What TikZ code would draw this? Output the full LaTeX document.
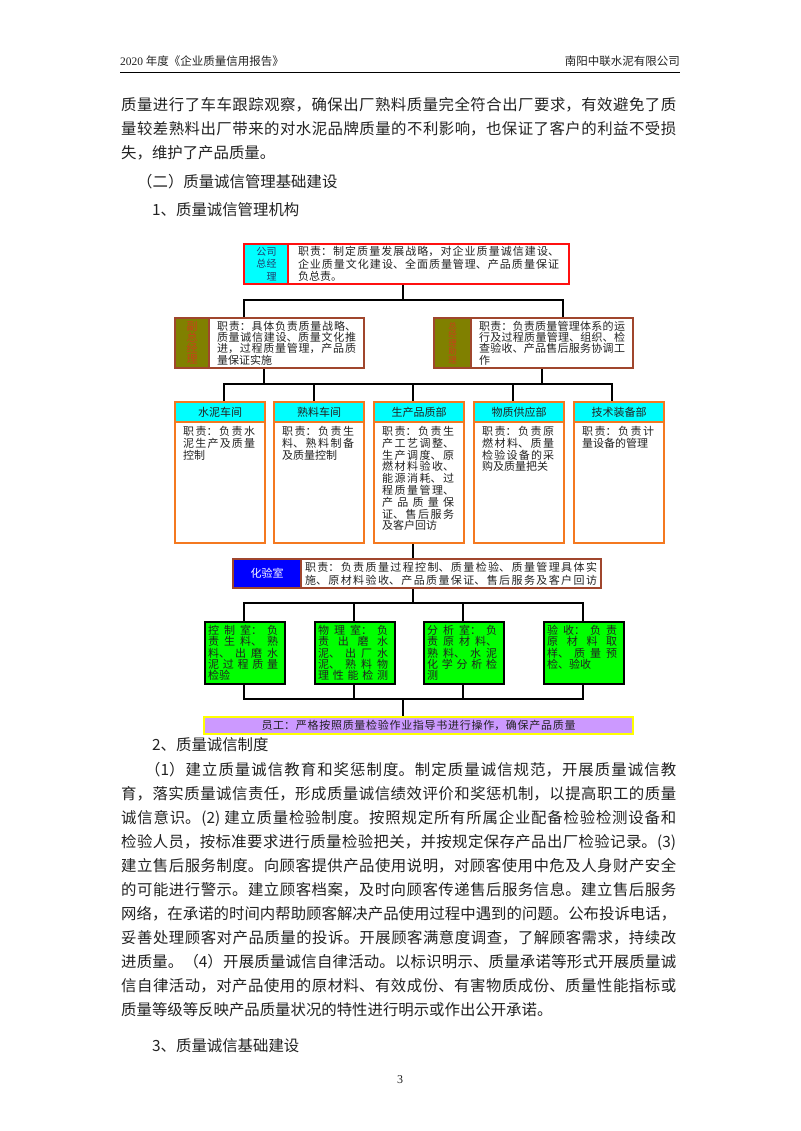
\documentclass[tikz,border=0pt]{standalone}
\usepackage{fontspec}
\setmainfont{Liberation Serif}
\newfontfamily\cjk{Noto Sans CJK SC}
\usetikzlibrary{positioning}
\XeTeXlinebreaklocale "zh"
\XeTeXlinebreakskip=0pt plus 3pt
\definecolor{gmcyan}{HTML}{00FFFF}
\definecolor{gmred}{HTML}{FF1010}
\definecolor{gmlbltext}{HTML}{1F3F6F}
\definecolor{vgolive}{HTML}{808000}
\definecolor{vgtext}{HTML}{C8401A}
\definecolor{vgedge}{HTML}{A0462D}
\definecolor{deptedge}{HTML}{F47920}
\definecolor{labblue}{HTML}{0000FF}
\definecolor{roomgreen}{HTML}{00FF00}
\definecolor{staffpurple}{HTML}{CC99FF}
\definecolor{staffedge}{HTML}{FFFF00}
\definecolor{ink}{HTML}{222222}
\newcommand{\bodyfont}{\cjk\fontsize{15.4}{24}\selectfont}
\newcommand{\headfont}{\cjk\fontsize{11.5}{14}\selectfont}
\newcommand{\chartfont}[1][11.8]{\cjk\fontsize{11}{#1}\selectfont}
\newcommand{\smalllbl}{\cjk\fontsize{8.5}{8.6}\selectfont}

\begin{document}
\begin{tikzpicture}[x=1pt, y=-1pt,
    every node/.style={text=ink, inner sep=0pt},
    para/.style={anchor=north west, font=\bodyfont, text width=555, align=justify},
    heading/.style={anchor=north west, font=\bodyfont},
    frame/.style={anchor=north west, draw, line width=2pt, align=justify},
    gmbox/.style={frame, draw=gmred},
    vgbox/.style={frame, draw=vgedge},
    deptbox/.style={frame, draw=deptedge, minimum width=90},
    roombox/.style={frame, draw=black, fill=roomgreen, minimum width=80, minimum height=62},
    duty/.style={anchor=north west, align=justify, font=\chartfont},
    spread/.style={execute at begin node={\parfillskip=0pt\relax}},
    tree/.style={draw=black, line width=1.8pt},
  ]
  \fill[white] (0,0) rectangle (800,1131);
  \useasboundingbox (0,0) rectangle (800,1131);

  % page head
  \node[anchor=base west, font=\headfont] (headl) at (120,66) {{\rmfamily 2020} 年度《企业质量信用报告》};
  \node[anchor=base east, font=\headfont] (headr) at (680,66) {南阳中联水泥有限公司};
  \draw[line width=1pt] (120,73) -- (680,73);

  % text above the chart
  \node[para] (p1) at (121,97) {质量进行了车车跟踪观察，确保出厂熟料质量完全符合出厂要求，有效避免了质\linebreak
    量较差熟料出厂带来的对水泥品牌质量的不利影响，也保证了客户的利益不受损\linebreak
    失，维护了产品质量。};
  \node[heading] (h2) at (137,174) {（二）质量诚信管理基础建设};
  \node[heading] (h21) at (152,202) {1、质量诚信管理机构};

  % general manager
  \node[gmbox, fill=gmcyan, minimum width=44, minimum height=40, text width=21, inner xsep=11.5,
        align=right, font={\cjk\fontsize{10}{12.5}\selectfont}, text=gmlbltext] (gmlbl) at (243,243) {公司\\总经\\理};
  \node[gmbox, fill=white, minimum width=281, minimum height=40, text width=261, inner xsep=10,
        font={\chartfont[12.5]}] (gmduty) at (287,243)
        {职责：制定质量发展战略，对企业质量诚信建设、\linebreak
         企业质量文化建设、全面质量管理、产品质量保证\linebreak
         负总责。};

  % deputy and assistant
  \node[vgbox, fill=vgolive, minimum width=34, minimum height=50, text width=12, align=center,
        font={\chartfont[11]}, text=vgtext] (vgmlbl) at (174,317) {副\\总\\经\\理};
  \node[vgbox, fill=white, minimum width=155, minimum height=50, text width=139, inner xsep=8,
        font={\chartfont[11.3]}] (vgmduty) at (208,317)
        {职责：具体负责质量战略、\linebreak
         质量诚信建设、质量文化推\linebreak
         进，过程质量管理，产品质\linebreak
         量保证实施};
  \node[vgbox, fill=vgolive, minimum width=37, minimum height=50, text width=10, align=center,
        font=\smalllbl, text=vgtext] (agmlbl) at (433,317) {总\\经\\理\\助\\理};
  \node[vgbox, fill=white, minimum width=162, minimum height=50, text width=146, inner xsep=8,
        font={\chartfont[11.3]}] (agmduty) at (470,317)
        {职责：负责质量管理体系的运\linebreak
         行及过程质量管理、组织、检\linebreak
         查验收、产品售后服务协调工\linebreak
         作};

  % departments
  \foreach \name/\x/\title in {cw/174/水泥车间, kl/273/熟料车间, pq/373/生产品质部, ms/473/物质供应部, te/573/技术装备部} {
    \node[deptbox, fill=gmcyan, minimum height=20, align=center, font=\chartfont] (\name-head) at (\x,401) {\title};
    \node[deptbox, fill=white, minimum height=121] (\name-body) at (\x,421) {};
  }
  \node[duty, text width=72, below right=5pt and 9pt of cw-body.north west] (cw-text)
        {职责：负责水\linebreak 泥生产及质量\linebreak 控制};
  \node[duty, text width=72, below right=5pt and 9pt of kl-body.north west] (kl-text)
        {职责：负责生\linebreak 料、熟料制备\linebreak 及质量控制};
  \node[duty, text width=72, below right=5pt and 9pt of pq-body.north west] (pq-text)
        {职责：负责生\linebreak 产工艺调整、\linebreak 生产调度、原\linebreak 燃材料验收、\linebreak
         能源消耗、过\linebreak 程质量管理、\linebreak 产品质量保\linebreak 证、售后服务\linebreak 及客户回访};
  \node[duty, text width=72, below right=5pt and 9pt of ms-body.north west] (ms-text)
        {职责：负责原\linebreak 燃材料、质量\linebreak 检验设备的采\linebreak 购及质量把关};
  \node[duty, text width=72, below right=5pt and 9pt of te-body.north west] (te-text)
        {职责：负责计\linebreak 量设备的管理};

  % laboratory
  \node[vgbox, fill=labblue, minimum width=68, minimum height=29, align=center, font=\chartfont,
        text=white] (lablbl) at (232,558) {化验室};
  \node[vgbox, fill=white, minimum width=300, minimum height=29, text width=292, inner xsep=4,
        font={\chartfont[12.7]}, spread] (labduty) at (300,558)
        {职责：负责质量过程控制、质量检验、质量管理具体实\linebreak
         施、原材料验收、产品质量保证、售后服务及客户回访};

  % rooms
  \node[roombox] (ctrl) at (204,621) {};
  \node[roombox] (phys) at (314,621) {};
  \node[roombox] (anal) at (423,621) {};
  \node[roombox] (recv) at (543,621) {};
  \node[duty, text width=70, font={\chartfont[11.3]}, below right=4pt and 4pt of ctrl.north west] (ctrl-text)
        {控制室：负\linebreak 责生料、熟\linebreak 料、出磨水\linebreak 泥过程质量\linebreak 检验};
  \node[duty, text width=70, font={\chartfont[11.3]}, spread, below right=4pt and 4pt of phys.north west] (phys-text)
        {物理室：负\linebreak 责出磨水\linebreak 泥、出厂水\linebreak 泥、熟料物\linebreak 理性能检测};
  \node[duty, text width=70, font={\chartfont[11.3]}, below right=4pt and 4pt of anal.north west] (anal-text)
        {分析室：负\linebreak 责原材料、\linebreak 熟料、水泥\linebreak 化学分析检\linebreak 测};
  \node[duty, text width=70, font={\chartfont[11.3]}, below right=4pt and 4pt of recv.north west] (recv-text)
        {验收：负责\linebreak 原材料取\linebreak 样、质量预\linebreak 检、验收};

  % staff
  \node[frame, draw=staffedge, fill=staffpurple, minimum width=429, minimum height=17, text width=314,
        inner xsep=57.5, font=\chartfont, spread] (staff) at (203,716)
        {员工：严格按照质量检验作业指导书进行操作，确保产品质量};

  % connectors
  \coordinate (gmj) at (403,300);
  \coordinate (gml) at (244,300);
  \coordinate (gmr) at (563,300);
  \draw[tree] (gmduty.south -| gmj) -- (gmj);
  \draw[tree] (vgmduty.north -| gml) -- (gml) -- (gmr) -- (agmduty.north -| gmr);

  \coordinate (vgj) at (264,384);
  \coordinate (agj) at (542,384);
  \draw[tree] (vgmduty.south -| vgj) -- (vgj);
  \draw[tree] (agmduty.south -| agj) -- (agj);
  \coordinate (db1) at (224,384);
  \coordinate (db2) at (314,384);
  \coordinate (db3) at (413,384);
  \coordinate (db4) at (513,384);
  \coordinate (db5) at (612,384);
  \draw[tree] (cw-head.north -| db1) -- (db1) -- (db5) -- (te-head.north -| db5);
  \foreach \c/\b in {db2/kl, db3/pq, db4/ms}
    \draw[tree] (\c) -- (\b-head.north -| \c);

  \coordinate (labx) at (413,550);
  \draw[tree] (pq-body.south -| labx) -- (labduty.north -| labx);

  \coordinate (rj) at (413,603);
  \coordinate (rb1) at (244,603);
  \coordinate (rb2) at (354,603);
  \coordinate (rb3) at (463,603);
  \coordinate (rb4) at (583,603);
  \draw[tree] (labduty.south -| rj) -- (rj);
  \draw[tree] (ctrl.north -| rb1) -- (rb1) -- (rb4) -- (recv.north -| rb4);
  \draw[tree] (rb2) -- (phys.north -| rb2);
  \draw[tree] (rb3) -- (anal.north -| rb3);

  \coordinate (sj) at (403,699);
  \coordinate (sb1) at (244,699);
  \coordinate (sb2) at (354,699);
  \coordinate (sb3) at (463,699);
  \coordinate (sb4) at (583,699);
  \draw[tree] (ctrl.south -| sb1) -- (sb1) -- (sb4) -- (recv.south -| sb4);
  \draw[tree] (phys.south -| sb2) -- (sb2);
  \draw[tree] (anal.south -| sb3) -- (sb3);
  \draw[tree] (sj) -- (staff.north -| sj);

  % text below the chart
  \node[heading] (h22) at (152,737) {2、质量诚信制度};
  \node[para] (p2) at (121,762) {\hspace*{24pt}（1）建立质量诚信教育和奖惩制度。制定质量诚信规范，开展质量诚信教\linebreak
    育，落实质量诚信责任，形成质量诚信绩效评价和奖惩机制，以提高职工的质量\linebreak
    诚信意识。(2) 建立质量检验制度。按照规定所有所属企业配备检验检测设备和\linebreak
    检验人员，按标准要求进行质量检验把关，并按规定保存产品出厂检验记录。(3)\linebreak
    建立售后服务制度。向顾客提供产品使用说明，对顾客使用中危及人身财产安全\linebreak
    的可能进行警示。建立顾客档案，及时向顾客传递售后服务信息。建立售后服务\linebreak
    网络，在承诺的时间内帮助顾客解决产品使用过程中遇到的问题。公布投诉电话，\linebreak
    妥善处理顾客对产品质量的投诉。开展顾客满意度调查，了解顾客需求，持续改\linebreak
    进质量。（4）开展质量诚信自律活动。以标识明示、质量承诺等形式开展质量诚\linebreak
    信自律活动，对产品使用的原材料、有效成份、有害物质成份、质量性能指标或\linebreak
    质量等级等反映产品质量状况的特性进行明示或作出公开承诺。};
  \node[heading] (h23) at (152,1038) {3、质量诚信基础建设};
  \node[font=\fontsize{12}{14}\selectfont] (pageno) at (400,1080) {3};
\end{tikzpicture}
\end{document}
